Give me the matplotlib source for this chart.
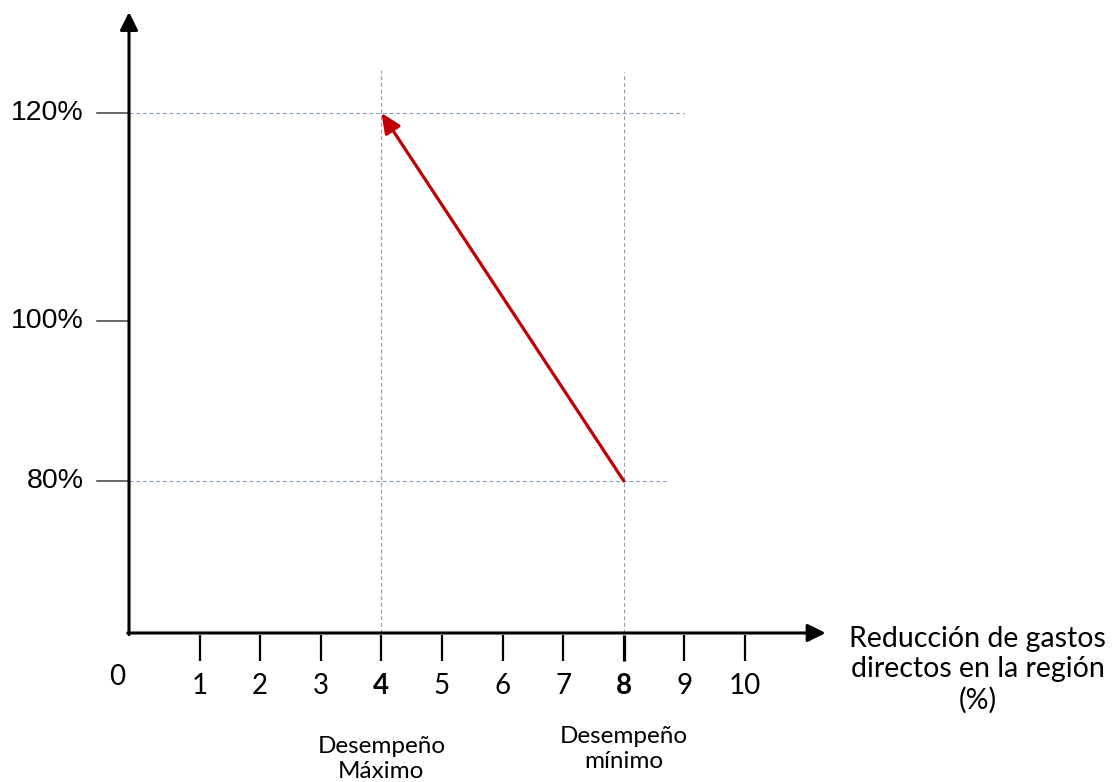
import numpy as np
import matplotlib
matplotlib.use("Agg")
import matplotlib.pyplot as plt

# data
x_ticks = [1, 2, 3, 4, 5, 6, 7, 8, 9, 10]
x_bold = [4, 8]
y_levels = [80, 100, 120]
y_labels = ["80%", "100%", "120%"]
start_pt = (8, 80)   # desempeño mínimo
end_pt = (4, 120)    # desempeño máximo
x_title = "Reducción de gastos\ndirectos en la región\n(%)"
note_max = "Desempeño\nMáximo"
note_min = "Desempeño\nmínimo"

# hand drawn vertical axis: not evenly spaced
y_anchor = [40, 80, 100, 120, 140]
y_anchor_px = [801, 481, 321, 113, -95]
H = 782


def fwd(v):
    return H - np.interp(v, y_anchor, y_anchor_px)


def inv(p):
    return np.interp(H - np.asarray(p), y_anchor_px[::-1], y_anchor[::-1])


plt.rcParams['font.family'] = ['Lato', 'DejaVu Sans']

fig = plt.figure(figsize=(11.12, 7.82), dpi=100)
ax = fig.add_axes([0, 0, 1, 1])
ax.set_yscale('function', functions=(fwd, inv))
ax.set_xlim(-139 / 60.6, (1112 - 139) / 60.6)
ax.set_ylim(42.375, 130.86)
ax.axis('off')

x0, y0 = -0.165, 61.0
grid_c = '#8A9EBA'
dash = (0, (3.5, 2.5))

# dashed guide lines
ax.plot([x0, 9.0], [120, 120], color=grid_c, lw=0.8, ls=dash)
ax.plot([x0, 8.7], [80, 80], color=grid_c, lw=0.8, ls=dash)
ax.plot([4, 4], [y0, 124.1], color=grid_c, lw=0.8, ls=dash)
ax.plot([8, 8], [y0, 123.9], color=grid_c, lw=0.8, ls=dash)

# axes with arrows
ax.annotate('', xy=(x0, 129.7), xytext=(x0, y0 - 0.2),
            arrowprops=dict(arrowstyle='-|>,head_length=0.9,head_width=0.45',
                            mutation_scale=12, lw=2.2, color='black',
                            shrinkA=0, shrinkB=0))
ax.annotate('', xy=(11.33, y0), xytext=(x0 - 0.02, y0),
            arrowprops=dict(arrowstyle='-|>,head_length=0.9,head_width=0.45',
                            mutation_scale=12, lw=2.2, color='black',
                            shrinkA=0, shrinkB=0))

# y ticks + labels
for v, lab in zip(y_levels, y_labels):
    ax.plot([-0.69, x0], [v, v], color='#404040', lw=1.1)
    ax.text(-0.91, v, lab, ha='right', va='center', fontsize=20.5,
            family='Liberation Sans')

# x ticks + labels
for t in x_ticks:
    b = t in x_bold
    ax.plot([t, t], [60.7, 57.5], color='black', lw=2.3 if t == 8 else 1.6,
            solid_capstyle='butt')
    ax.text(t, 54.4, str(t), ha='center', va='center', fontsize=20,
            fontweight='bold' if b else 'normal')
ax.text(-0.36, 55.5, '0', ha='center', va='center', fontsize=20)

# red arrow
ax.annotate('', xy=end_pt, xytext=start_pt,
            arrowprops=dict(arrowstyle='-|>,head_length=1.0,head_width=0.45',
                            mutation_scale=12, lw=2.3, color='#C00000',
                            shrinkA=0, shrinkB=0))

ax.text(13.84, 56.4, x_title, ha='center', va='center', fontsize=20.5,
        linespacing=1.2)
ax.text(4, 45.25, note_max, ha='center', va='center', fontsize=17.5,
        linespacing=1.25)
ax.text(8, 46.5, note_min, ha='center', va='center', fontsize=17.5,
        linespacing=1.25)

fig.savefig('out.png', dpi=100)
